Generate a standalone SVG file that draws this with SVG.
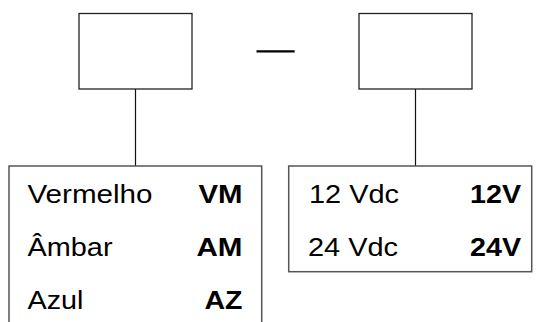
<svg xmlns="http://www.w3.org/2000/svg" width="538" height="322" viewBox="0 0 538 322">
<style>
.box{fill:#fff;stroke:#222;stroke-width:1.3}
.tbl{fill:none;stroke:#555;stroke-width:1.5}
.conn{stroke:#111;stroke-width:1.2;fill:none}
.dash{stroke:#000;stroke-width:2.2}
.t{font-family:"Liberation Sans",Arial,sans-serif;font-size:25.6px;fill:#000}
.b{font-weight:bold;text-anchor:end}
</style>
<rect width="538" height="322" fill="#fff"/>
<g id="connectors">
<line class="conn" x1="135.5" y1="89" x2="135.5" y2="166"/>
<line class="conn" x1="415.5" y1="89" x2="415.5" y2="166"/>
</g>
<g id="box-color"><rect class="box" x="79" y="13.5" width="113" height="75.5"/></g>
<g id="separator"><line class="dash" x1="256.5" y1="51.3" x2="294.7" y2="51.3"/></g>
<g id="box-voltage"><rect class="box" x="359" y="13.5" width="113" height="75.5"/></g>
<g id="table-color">
<path class="tbl" d="M9 323 V166 H261.7 V323"/>
<text class="t" x="27.5" y="203.3" textLength="125" lengthAdjust="spacingAndGlyphs">Vermelho</text>
<text class="t" x="27.5" y="256" textLength="85" lengthAdjust="spacingAndGlyphs">Âmbar</text>
<text class="t" x="27.5" y="308.5" textLength="56" lengthAdjust="spacingAndGlyphs">Azul</text>
<text class="t b" x="242.5" y="203.3" textLength="44" lengthAdjust="spacingAndGlyphs">VM</text>
<text class="t b" x="242.5" y="256" textLength="46" lengthAdjust="spacingAndGlyphs">AM</text>
<text class="t b" x="242.5" y="308.5" textLength="38" lengthAdjust="spacingAndGlyphs">AZ</text>
</g>
<g id="table-voltage">
<rect class="tbl" x="288.7" y="166" width="243" height="105.7"/>
<text class="t" x="309" y="202.7" textLength="90" lengthAdjust="spacingAndGlyphs">12 Vdc</text>
<text class="t" x="308" y="256" textLength="90" lengthAdjust="spacingAndGlyphs">24 Vdc</text>
<text class="t b" x="521" y="202.7" textLength="51" lengthAdjust="spacingAndGlyphs">12V</text>
<text class="t b" x="521" y="255.5" textLength="51" lengthAdjust="spacingAndGlyphs">24V</text>
</g>
</svg>
